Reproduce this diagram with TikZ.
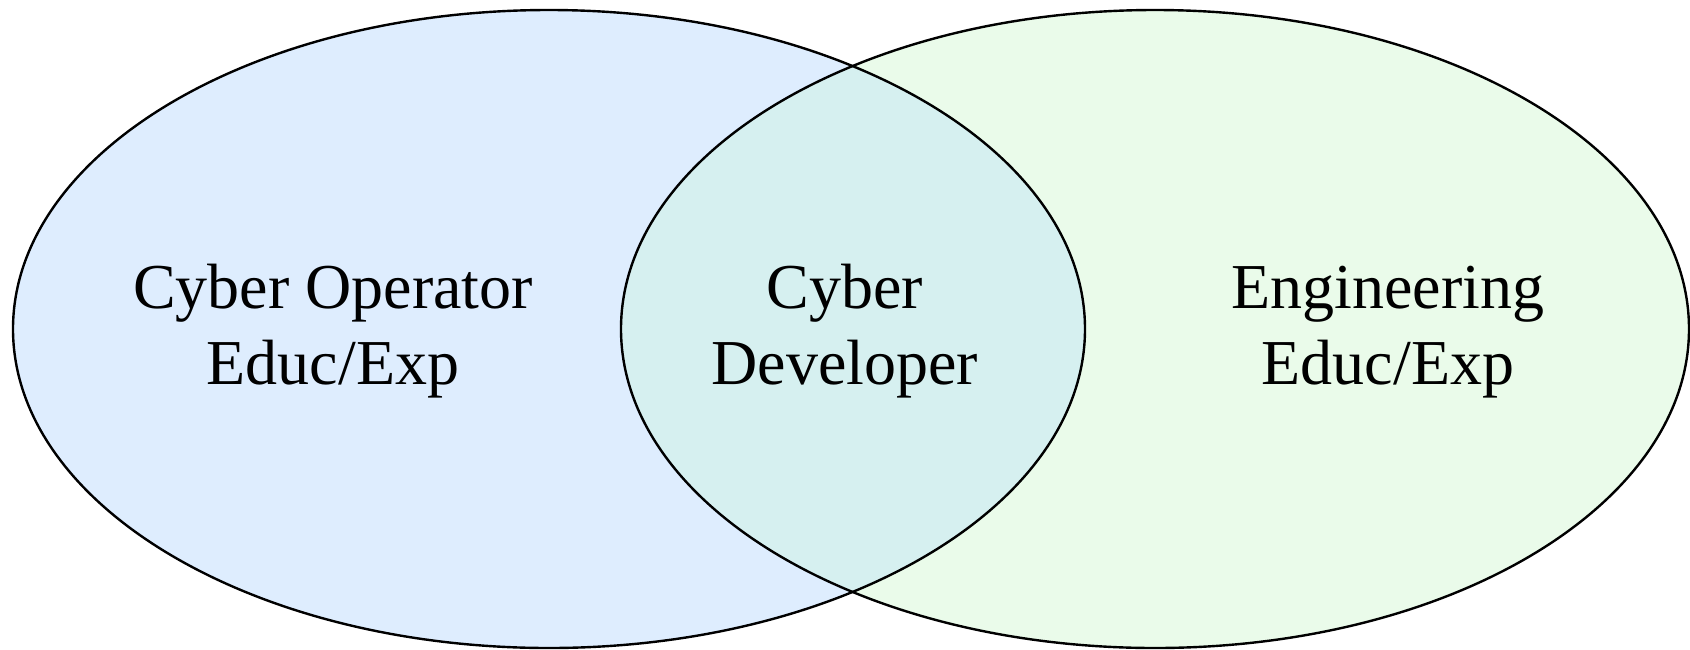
\documentclass[tikz,border=0pt]{standalone}
\usepackage{fontspec}
\setmainfont{Liberation Serif}
\definecolor{leftfill}{RGB}{222,237,254}
\definecolor{rightfill}{RGB}{234,251,234}
\definecolor{midfill}{RGB}{214,240,240}
\tikzset{
  outline/.style={draw=black, line width=2.4pt},
  label/.style={align=center, anchor=base, inner sep=0pt, font=\fontsize{64}{76}\selectfont}
}
\begin{document}
\begin{tikzpicture}[x=1pt, y=-1pt]
\useasboundingbox (0,0) rectangle (1690,649);
% fills
\fill[leftfill] (549,329) ellipse [x radius=536, y radius=319];
\fill[rightfill] (1155,329) ellipse [x radius=534, y radius=319];
\begin{scope}
  \clip (549,329) ellipse [x radius=536, y radius=319];
  \fill[midfill] (1155,329) ellipse [x radius=534, y radius=319];
\end{scope}
% outlines
\draw[outline] (549,329) ellipse [x radius=536, y radius=319];
\draw[outline] (1155,329) ellipse [x radius=534, y radius=319];
% labels
\node[label] (op) at (333,384) {Cyber Operator\\Educ/Exp};
\node[label] (dev) at (845,384) {Cyber\\Developer};
\node[label] (eng) at (1388,384) {Engineering\\Educ/Exp};
\end{tikzpicture}
\end{document}
